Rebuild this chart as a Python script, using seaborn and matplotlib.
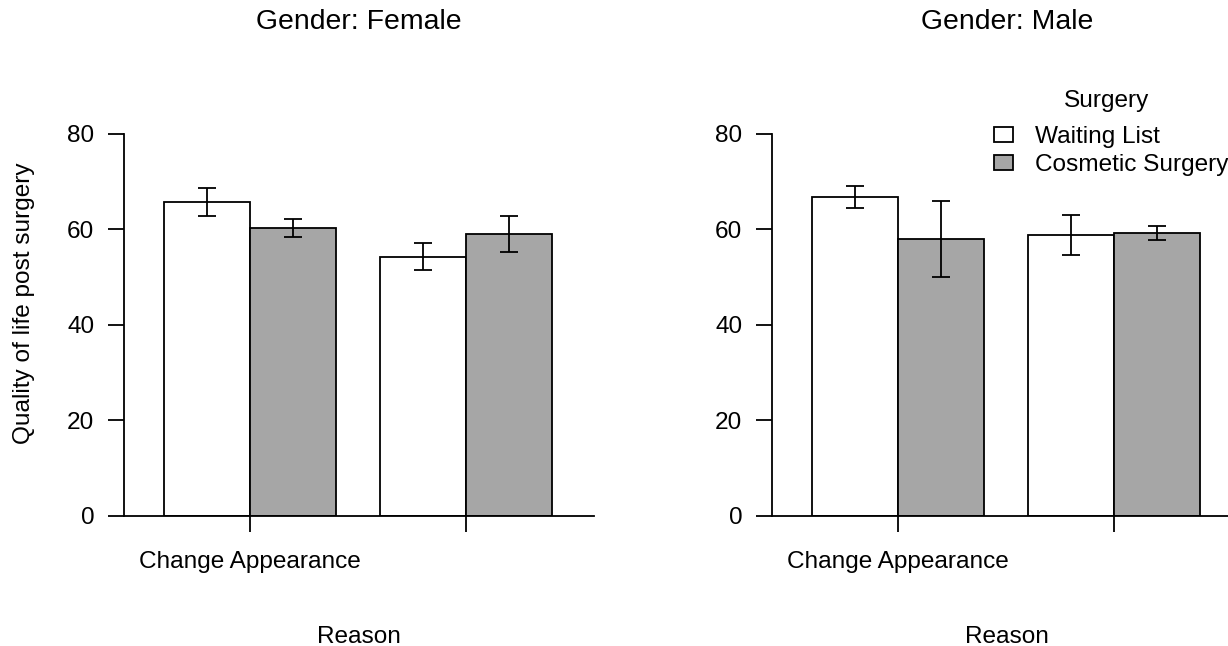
import matplotlib
matplotlib.use("Agg")
import matplotlib.pyplot as plt
import seaborn as sns
import pandas as pd

# Data
genders = ["Female", "Male"]
reasons = ["Change Appearance", "Physical reason"]
reason_ticklabels = ["Change Appearance", ""]
surgery_levels = ["Waiting List", "Cosmetic Surgery"]

# mean quality of life post surgery, per reason
female_waiting = [65.8, 54.3]
female_cosmetic = [60.2, 59.1]
male_waiting = [66.8, 58.9]
male_cosmetic = [58.0, 59.2]

# half length of the error bars
female_waiting_se = [2.95, 2.75]
female_cosmetic_se = [1.9, 3.75]
male_waiting_se = [2.3, 4.2]
male_cosmetic_se = [8.0, 1.5]

means = {
    ("Female", "Waiting List"): female_waiting,
    ("Female", "Cosmetic Surgery"): female_cosmetic,
    ("Male", "Waiting List"): male_waiting,
    ("Male", "Cosmetic Surgery"): male_cosmetic,
}
errors = {
    ("Female", "Waiting List"): female_waiting_se,
    ("Female", "Cosmetic Surgery"): female_cosmetic_se,
    ("Male", "Waiting List"): male_waiting_se,
    ("Male", "Cosmetic Surgery"): male_cosmetic_se,
}

rows = []
for (g, s), vals in means.items():
    for r, v in zip(reasons, vals):
        rows.append({"Gender": g, "Surgery": s, "Reason": r, "Quality": v})
df = pd.DataFrame(rows)

sns.set_style("ticks")
plt.rcParams["font.family"] = ["Liberation Sans", "DejaVu Sans"]
plt.rcParams["text.color"] = "black"
plt.rcParams["axes.labelcolor"] = "black"
plt.rcParams["xtick.color"] = "black"
plt.rcParams["ytick.color"] = "black"

W, H = 1228, 646
fig = plt.figure(figsize=(W / 100, H / 100), dpi=100)

fs = 17.6
lw = 1.3
axes_left = [124, 772]

for i, g in enumerate(genders):
    # axes: bottom (y=0) at 516 px, 430 px tall for 0..90
    ax = fig.add_axes([axes_left[i] / W, 1 - 516 / H, 470 / W, 430 / H])
    sub = df[df["Gender"] == g]
    sns.barplot(data=sub, x="Reason", y="Quality", hue="Surgery",
                order=reasons, hue_order=surgery_levels,
                palette=["white", "#A6A6A6"], edgecolor="black",
                linewidth=lw, errorbar=None, saturation=1,
                legend=False, ax=ax)
    bar_groups = list(ax.containers)
    for cont, s in zip(bar_groups, surgery_levels):
        xs = [b.get_x() + b.get_width() / 2 for b in cont]
        ax.errorbar(xs, means[(g, s)], yerr=errors[(g, s)], fmt="none",
                    ecolor="black", elinewidth=lw, capsize=6.5,
                    capthick=lw, zorder=5)

    ax.set_xlim(-0.583, 1.593)
    ax.set_ylim(0, 90)
    ax.set_yticks([0, 20, 40, 60, 80])
    ax.set_xticks([0, 1])
    ax.set_xticklabels(reason_ticklabels)
    sns.despine(ax=ax)
    ax.spines["left"].set_bounds(0, 80)
    for sp in ("left", "bottom"):
        ax.spines[sp].set_linewidth(lw)
        ax.spines[sp].set_color("black")
    ax.tick_params(length=11.5, width=lw, labelsize=fs)
    ax.tick_params(axis="x", pad=13.5)
    ax.tick_params(axis="y", pad=10)

    ax.set_title(f"Gender: {g}", fontsize=20.4, pad=41)
    ax.set_xlabel("Reason", fontsize=fs)
    ax.xaxis.set_label_coords(0.5, (516 - 626) / 430)
    if i == 0:
        ax.set_ylabel("Quality of life post surgery", fontsize=fs)
        ax.yaxis.set_label_coords((35 - 124) / 470, (516 - 303.5) / 430)
    else:
        ax.set_ylabel("")
        ax.legend(handles=bar_groups, labels=surgery_levels,
                  loc="upper left", bbox_to_anchor=(994 / W, 1 - 126 / H),
                  bbox_transform=fig.transFigure, frameon=False,
                  borderpad=0, borderaxespad=0, handlelength=0.76,
                  handleheight=0.55, handletextpad=0.9, labelspacing=0.25,
                  fontsize=fs)
        fig.text(1107 / W, 1 - 106.7 / H, "Surgery", ha="center",
                 va="baseline", fontsize=fs)

fig.savefig("out.png", dpi=100)
